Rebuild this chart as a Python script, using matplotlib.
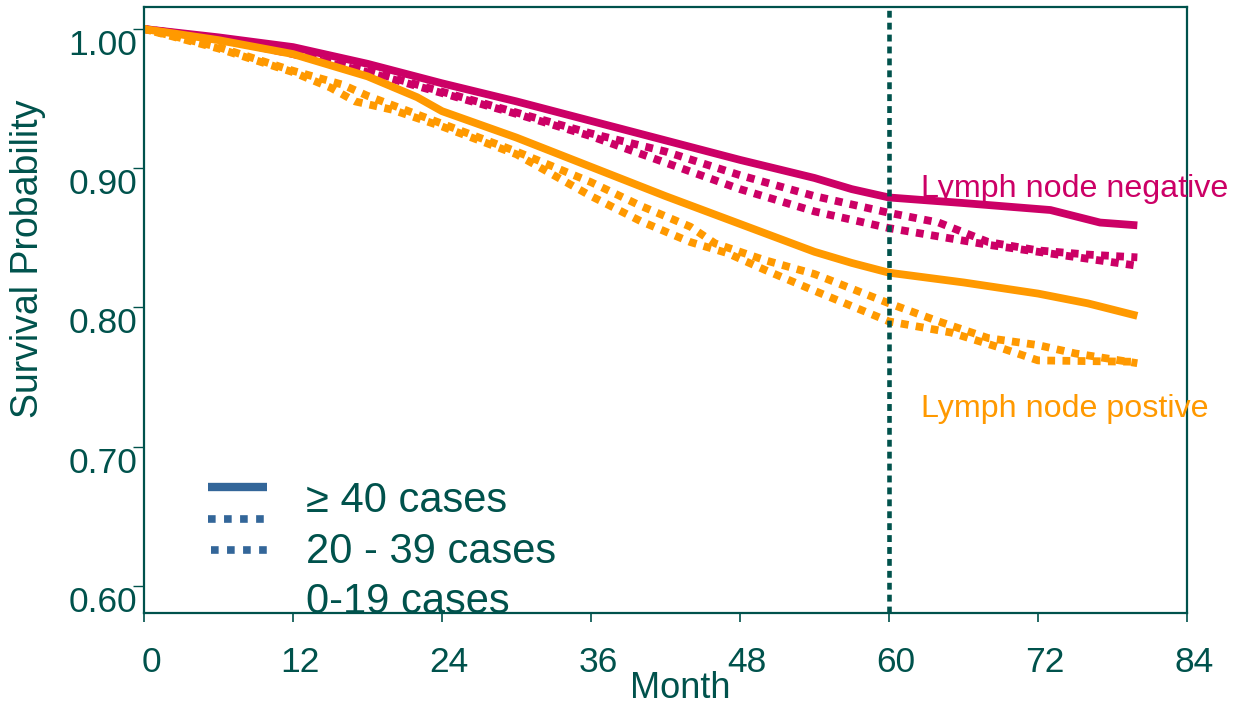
import matplotlib
matplotlib.use("Agg")
import matplotlib.pyplot as plt
import matplotlib.transforms as mtransforms
from matplotlib.lines import Line2D

# ---------------- data ----------------
neg_40_months = [0, 6, 12, 18, 24, 30, 36, 42, 48, 54, 57, 60, 66, 73, 77, 80]
neg_40_vals = [1.000, 0.994, 0.987, 0.975, 0.961, 0.948, 0.934, 0.920, 0.906,
               0.893, 0.885, 0.879, 0.875, 0.870, 0.861, 0.859]

neg_20_months = [0, 6, 12, 18, 24, 30, 36, 42, 48, 54, 60, 64, 68, 72, 76, 80]
neg_20_vals = [1.000, 0.993, 0.983, 0.970, 0.955, 0.940, 0.925, 0.912, 0.895,
               0.880, 0.868, 0.861, 0.847, 0.841, 0.838, 0.836]

neg_0_months = [0, 6, 12, 18, 24, 30, 36, 42, 48, 54, 60, 64, 68, 72, 76, 80]
neg_0_vals = [1.000, 0.993, 0.982, 0.969, 0.954, 0.939, 0.923, 0.904, 0.885,
              0.869, 0.857, 0.851, 0.845, 0.840, 0.835, 0.830]

pos_40_months = [0, 6, 12, 18, 22, 24, 30, 36, 42, 48, 54, 57, 60, 66, 72, 76, 80]
pos_40_vals = [1.000, 0.992, 0.982, 0.966, 0.951, 0.941, 0.922, 0.901, 0.880,
               0.860, 0.840, 0.832, 0.825, 0.818, 0.810, 0.803, 0.794]

pos_20_months = [0, 6, 12, 16, 18, 24, 30, 36, 40, 44, 46, 50, 54, 60, 64, 68, 72, 75, 80]
pos_20_vals = [1.000, 0.987, 0.970, 0.960, 0.952, 0.932, 0.912, 0.890, 0.873,
               0.858, 0.846, 0.834, 0.824, 0.803, 0.790, 0.778, 0.773, 0.767, 0.760]

pos_0_months = [0, 6, 12, 15, 17, 20, 24, 30, 36, 40, 44, 47, 50, 54, 60, 65, 69, 72, 80]
pos_0_vals = [1.000, 0.986, 0.969, 0.958, 0.948, 0.942, 0.930, 0.910, 0.880,
              0.862, 0.847, 0.839, 0.827, 0.812, 0.790, 0.782, 0.771, 0.762, 0.761]

x_ticks = [0, 12, 24, 36, 48, 60, 72, 84]
y_ticks = [0.60, 0.70, 0.80, 0.90, 1.00]
y_tick_labels = ["0.60", "0.70", "0.80", "0.90", "1.00"]
cutoff_month = 60
legend_labels = ["\u2265 40 cases", "20 - 39 cases", "0-19 cases"]
annot_neg = "Lymph node negative"
annot_pos = "Lymph node postive"

# ---------------- style ----------------
TEAL = "#00524C"
MAGENTA = "#CC0066"
ORANGE = "#FF9900"
BLUE = "#336699"
FONT = ["Liberation Sans", "DejaVu Sans"]
plt.rcParams["font.family"] = FONT

W, H = 1234, 706
fig = plt.figure(figsize=(W / 100, H / 100), dpi=100)
ax = fig.add_axes([144 / W, 1 - 613 / H, (1187 - 144) / W, (613 - 7) / H])

LW = 5.6
DOT = (0, (1, 0.95))

ax.plot(neg_40_months, neg_40_vals, color=MAGENTA, lw=LW, solid_capstyle="butt")
ax.plot(neg_20_months, neg_20_vals, color=MAGENTA, lw=LW, linestyle=DOT)
ax.plot(neg_0_months, neg_0_vals, color=MAGENTA, lw=LW, linestyle=(0.5, (1, 0.95)))
ax.plot(pos_40_months, pos_40_vals, color=ORANGE, lw=LW, solid_capstyle="butt")
ax.plot(pos_20_months, pos_20_vals, color=ORANGE, lw=LW, linestyle=DOT)
ax.plot(pos_0_months, pos_0_vals, color=ORANGE, lw=LW, linestyle=(0.5, (1, 0.95)))

ax.axvline(cutoff_month, color=TEAL, lw=3.3, linestyle=(0, (1.5, 1.1)))

ax.set_xlim(0, 84)
ax.set_ylim(0.5806, 1.0158)
ax.set_xticks(x_ticks)
ax.set_xticklabels([str(t) for t in x_ticks])
ax.set_yticks(y_ticks)
ax.set_yticklabels(y_tick_labels)

for s in ax.spines.values():
    s.set_color(TEAL)
    s.set_linewidth(1.6)

ax.tick_params(axis="y", direction="out", length=8, width=1.0, color=TEAL,
               labelcolor=TEAL, labelsize=25.5, pad=-3)
ax.tick_params(axis="x", direction="out", length=6.5, width=1.2, color=TEAL,
               labelcolor=TEAL, labelsize=25.5, pad=17)
for lab in ax.get_yticklabels():
    lab.set_va("top")
shift = mtransforms.ScaledTranslation(7 / 100, 0, fig.dpi_scale_trans)
for lab in ax.get_xticklabels():
    lab.set_transform(lab.get_transform() + shift)

ax.set_xlabel("Month", color=TEAL, fontsize=26)
ax.xaxis.set_label_coords((680 - 144) / 1043, (613 - 689) / 606)
ax.xaxis.label.set_va("center")
ax.set_ylabel("Survival Probability", color=TEAL, fontsize=27)
ax.yaxis.set_label_coords((28 - 144) / 1043, (613 - 259) / 606)
ax.yaxis.label.set_va("center")

ax.text(62.55, 0.8796, annot_neg, color=MAGENTA, fontsize=23.2, va="baseline", ha="left")
ax.text(62.55, 0.7216, annot_pos, color=ORANGE, fontsize=23.2, va="baseline", ha="left")

# legend (manually placed, as in original)
def axf(px, py):
    return (px - 144) / 1043, (613 - py) / 606

x0, y0 = axf(208, 487)
x1, _ = axf(267, 487)
ax.add_line(Line2D([x0, x1], [y0, y0], transform=ax.transAxes, color=BLUE, lw=6,
                   solid_capstyle="butt", clip_on=False))
x0, y1 = axf(208, 519)
x1, _ = axf(266, 519)
ax.add_line(Line2D([x0, x1], [y1, y1], transform=ax.transAxes, color=BLUE, lw=5.5,
                   linestyle=(0, (1, 1.1)), clip_on=False))
x0, y2 = axf(211, 550)
x1, _ = axf(269, 550)
ax.add_line(Line2D([x0, x1], [y2, y2], transform=ax.transAxes, color=BLUE, lw=5.5,
                   linestyle=(0, (1, 1.1)), clip_on=False))

for lbl, py in zip(legend_labels, [512, 563, 613]):
    tx, ty = axf(306, py)
    ax.text(tx, ty, lbl, transform=ax.transAxes, color=TEAL, fontsize=30,
            va="baseline", ha="left")

fig.savefig("out.png", dpi=100)
